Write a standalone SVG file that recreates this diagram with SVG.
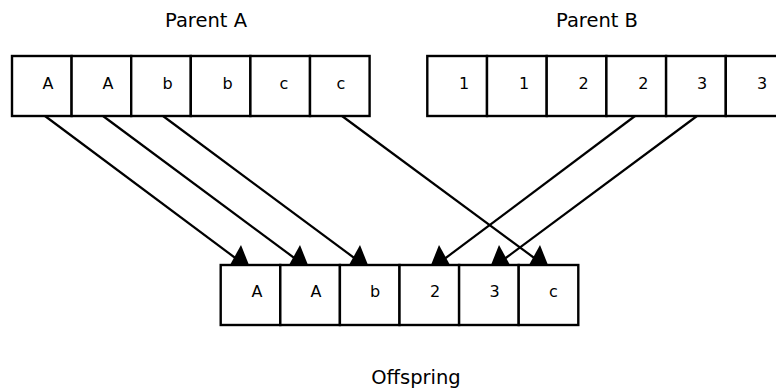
<svg xmlns="http://www.w3.org/2000/svg" xmlns:xlink="http://www.w3.org/1999/xlink" width="776" height="392" viewBox="0 0 776 392">
<style>
.cell{fill:#fff;stroke:#000;stroke-width:2.4}
.t{font-family:"DejaVu Sans",sans-serif;font-size:16px;fill:#000;text-anchor:middle}
.title{font-family:"DejaVu Sans",sans-serif;font-size:19.5px;fill:#000;text-anchor:middle}
.conn{stroke:#000;stroke-width:2.2;fill:none}
.ah{fill:#000}
</style>
<defs>
<polygon id="ahR" class="ah" points="1,0 -7,-20 -18,0"/>
<polygon id="ahL" class="ah" points="-1,0 7,-20 18,0"/>
</defs>
<rect width="776" height="392" fill="#fff"/>
<text class="title" x="206" y="27">Parent A</text>
<text class="title" x="597" y="27">Parent B</text>
<text class="title" x="416" y="384">Offspring</text>
<g id="parentA">
<rect class="cell" x="12" y="56" width="59.6" height="60"/>
<rect class="cell" x="71.6" y="56" width="59.6" height="60"/>
<rect class="cell" x="131.2" y="56" width="59.6" height="60"/>
<rect class="cell" x="190.8" y="56" width="59.6" height="60"/>
<rect class="cell" x="250.4" y="56" width="59.6" height="60"/>
<rect class="cell" x="310" y="56" width="59.6" height="60"/>
<text class="t" x="48" y="89">A</text>
<text class="t" x="108" y="89">A</text>
<text class="t" x="167.5" y="89">b</text>
<text class="t" x="227.5" y="89">b</text>
<text class="t" x="284" y="89">c</text>
<text class="t" x="341" y="89">c</text>
</g>
<g id="parentB">
<rect class="cell" x="427.3" y="56" width="59.7" height="60"/>
<rect class="cell" x="487" y="56" width="59.7" height="60"/>
<rect class="cell" x="546.7" y="56" width="59.7" height="60"/>
<rect class="cell" x="606.4" y="56" width="59.7" height="60"/>
<rect class="cell" x="666.1" y="56" width="59.7" height="60"/>
<rect class="cell" x="725.8" y="56" width="59.7" height="60"/>
<text class="t" x="464" y="89">1</text>
<text class="t" x="524" y="89">1</text>
<text class="t" x="583.5" y="89">2</text>
<text class="t" x="643.3" y="89">2</text>
<text class="t" x="702" y="89">3</text>
<text class="t" x="762" y="89">3</text>
</g>
<g id="offspring">
<rect class="cell" x="220.7" y="265" width="59.6" height="60"/>
<rect class="cell" x="280.3" y="265" width="59.6" height="60"/>
<rect class="cell" x="339.9" y="265" width="59.6" height="60"/>
<rect class="cell" x="399.5" y="265" width="59.6" height="60"/>
<rect class="cell" x="459.1" y="265" width="59.6" height="60"/>
<rect class="cell" x="518.7" y="265" width="59.6" height="60"/>
<text class="t" x="257" y="297">A</text>
<text class="t" x="316" y="297">A</text>
<text class="t" x="375" y="297">b</text>
<text class="t" x="435" y="297">2</text>
<text class="t" x="494.5" y="297">3</text>
<text class="t" x="553.5" y="297">c</text>
</g>
<g id="connectors">
<line class="conn" x1="45" y1="116" x2="238" y2="260"/>
<line class="conn" x1="103" y1="116" x2="297" y2="260"/>
<line class="conn" x1="163" y1="116" x2="357" y2="260"/>
<line class="conn" x1="342" y1="116" x2="537" y2="260"/>
<line class="conn" x1="635" y1="116" x2="443" y2="260"/>
<line class="conn" x1="697" y1="116" x2="503" y2="260"/>
<use xlink:href="#ahR" x="248" y="265"/>
<use xlink:href="#ahR" x="307" y="265"/>
<use xlink:href="#ahR" x="367" y="265"/>
<use xlink:href="#ahR" x="547" y="265"/>
<use xlink:href="#ahL" x="432" y="265"/>
<use xlink:href="#ahL" x="492" y="265"/>
</g>
</svg>
